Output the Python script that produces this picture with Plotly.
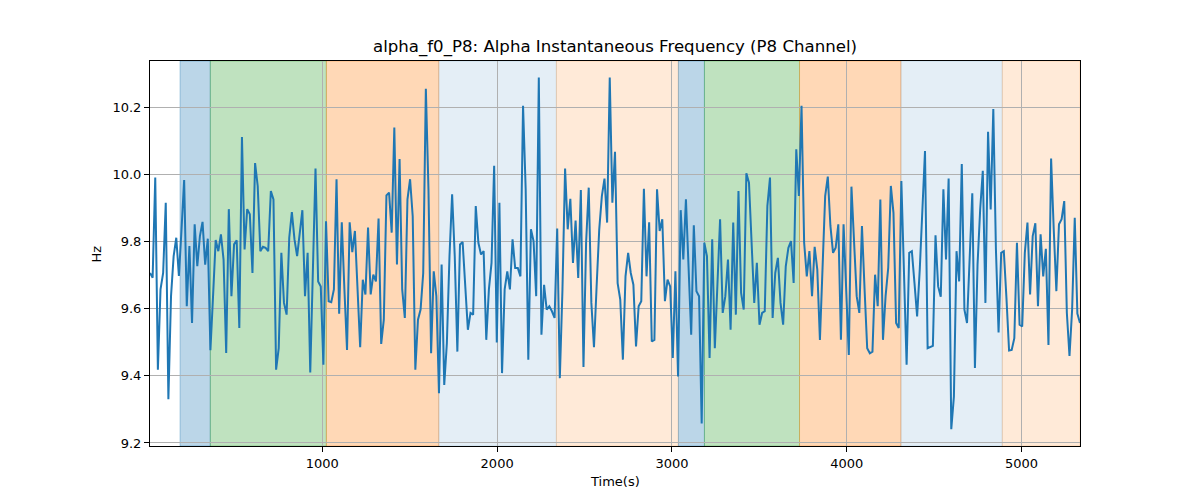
import numpy as np
import plotly.graph_objects as go

# ---- data ----
t_start = 14.0      # seconds, first sample
t_step = 15.03      # seconds between samples

hz_part1 = [9.706, 9.692, 9.990, 9.418, 9.657, 9.706, 9.915, 9.330, 9.637, 9.756,
            9.811, 9.697, 9.836, 9.983, 9.607, 9.786, 9.557, 9.851, 9.726, 9.816,
            9.858, 9.731, 9.808, 9.476, 9.637, 9.804, 9.771, 9.821, 9.746, 9.468,
            9.896, 9.637, 9.791, 9.803, 9.542, 10.111, 9.776, 9.896, 9.881, 9.706,
            10.033, 9.965, 9.771, 9.784, 9.781, 9.771, 9.950, 9.925, 9.418]
hz_part2 = [9.482, 9.766, 9.617, 9.582, 9.811, 9.887, 9.806, 9.756, 9.816, 9.893,
            9.637, 9.766, 9.410, 9.716, 10.017, 9.681, 9.666, 9.433, 9.860, 9.622,
            9.619, 9.657, 9.985, 9.585, 9.857, 9.657, 9.477, 9.857, 9.768, 9.831,
            9.647, 9.485, 9.686, 9.642, 9.841, 9.642, 9.701, 9.681, 9.868, 9.495,
            9.567, 9.937, 9.945, 9.826, 10.139, 9.731, 10.045, 9.657]
hz_part3 = [9.572, 9.925, 9.985, 9.875, 9.418, 9.567, 9.597, 9.706, 10.254, 9.955,
            9.467, 9.711, 9.637, 9.348, 9.731, 9.373, 9.497, 9.756, 9.940, 9.756,
            9.472, 9.791, 9.798, 9.657, 9.537, 9.587, 9.582, 9.905, 9.796, 9.761,
            9.771, 9.507, 9.657, 9.736, 10.025, 9.499, 9.915, 9.408, 9.657, 9.711,
            9.657, 9.806, 9.721, 9.721, 9.696, 10.204, 9.955, 9.448]
hz_part4 = [9.836, 9.801, 9.637, 10.288, 9.522, 9.671, 9.597, 9.607, 9.592, 9.572,
            9.838, 9.393, 9.657, 10.017, 9.836, 9.927, 9.736, 9.862, 9.691, 9.953,
            9.426, 9.796, 9.960, 9.617, 9.485, 9.666, 9.836, 9.935, 9.987, 9.856,
            10.288, 9.915, 10.067, 9.676, 9.627, 9.448, 9.696, 9.766, 9.706, 9.671,
            9.487, 9.607, 9.622, 9.957, 9.696, 9.857, 9.502]
hz_part5 = [9.507, 9.955, 9.831, 9.866, 9.622, 9.686, 9.666, 9.453, 9.711, 9.398,
            9.893, 9.746, 9.925, 9.746, 9.522, 9.848, 9.652, 9.637, 9.258, 9.796,
            9.756, 9.453, 9.806, 9.482, 9.686, 9.866, 9.587, 9.637, 9.746, 9.537,
            9.856, 9.582, 9.950, 9.647, 9.597, 10.003, 9.975, 9.796, 9.617, 9.736,
            9.552, 9.587, 9.592, 9.905, 9.990, 9.572, 9.706, 9.751]
hz_part6 = [9.617, 9.552, 9.726, 9.781, 9.801, 9.676, 10.074, 9.935, 10.204, 9.796,
            9.696, 9.771, 9.637, 9.784, 9.716, 9.507, 9.716, 9.935, 9.993, 9.846,
            9.766, 9.781, 9.851, 9.507, 9.851, 9.642, 9.462, 9.963, 9.776, 9.637,
            9.587, 9.846, 9.657, 9.482, 9.467, 9.472, 9.701, 9.607, 9.925, 9.507,
            9.637, 9.721, 9.965, 9.885, 9.557, 9.542, 9.980, 9.706]
hz_part7 = [9.433, 9.766, 9.771, 9.676, 9.577, 9.716, 9.885, 10.069, 9.482, 9.485,
            9.489, 9.818, 9.666, 9.635, 9.955, 9.746, 9.987, 9.241, 9.338, 9.771,
            9.681, 10.030, 9.597, 9.557, 9.766, 9.943, 9.423, 9.731, 9.895, 10.010,
            9.617, 10.126, 9.895, 10.194, 9.776, 9.529, 9.766, 9.771, 9.632, 9.475,
            9.477, 9.512, 9.796, 9.552, 9.547, 9.766, 9.856, 9.642]
hz_part8 = [9.816, 9.854, 9.607, 9.821, 9.696, 9.778, 9.492, 10.047, 9.836, 9.652,
            9.851, 9.866, 9.920, 9.587, 9.459, 9.597, 9.870, 9.585, 9.557]

# shaded segments (seconds) and their kind
seg_start = [186, 359, 1023, 1666, 2339, 3037, 3186, 3730, 4310, 4890]
seg_end = [359, 1023, 1666, 2339, 3037, 3186, 3730, 4310, 4890, 5340]
seg_kind = ["blue", "green", "orange", "lightblue", "lightorange",
            "blue", "green", "orange", "lightblue", "lightorange"]

y_ticks = [9.2, 9.4, 9.6, 9.8, 10.0, 10.2]
x_ticks = [1000, 2000, 3000, 4000, 5000]

title_text = "alpha_f0_P8: Alpha Instantaneous Frequency (P8 Channel)"

# ---- build ----
hz = np.array(hz_part1 + hz_part2 + hz_part3 + hz_part4 +
              hz_part5 + hz_part6 + hz_part7 + hz_part8)
t = t_start + t_step * np.arange(len(hz))

kind_style = {
    "blue": ("rgba(31,119,180,0.30)", "rgba(31,119,180,0.35)"),
    "green": ("rgba(44,160,44,0.30)", "rgba(44,160,44,0.35)"),
    "orange": ("rgba(255,127,14,0.30)", "rgba(255,127,14,0.35)"),
    "lightblue": ("rgba(31,119,180,0.12)", "rgba(31,119,180,0.15)"),
    "lightorange": ("rgba(255,127,14,0.16)", "rgba(255,127,14,0.2)"),
}

x_min, x_max = float(t[0]), float(t[-1])

fig = go.Figure()
fig.add_trace(go.Scatter(x=t, y=hz, mode="lines",
                         line=dict(color="#1f77b4", width=2),
                         showlegend=False, hoverinfo="x+y"))

for s, e, k in zip(seg_start, seg_end, seg_kind):
    fill, edge = kind_style[k]
    fig.add_shape(type="rect", xref="x", yref="paper",
                  x0=s, x1=min(e, x_max), y0=0, y1=1,
                  fillcolor=fill, line=dict(color=edge, width=1),
                  layer="below")

font_family = "DejaVu Sans, sans-serif"

# page body has an 8px margin, so margins are offset to keep the plot area
fig.update_layout(
    width=1200, height=500,
    margin=dict(l=142, r=128, t=53, b=62),
    paper_bgcolor="white", plot_bgcolor="white",
    font=dict(family=font_family, size=14, color="black"),
    title=dict(text=title_text, x=607 / 1200, xanchor="center",
               y=1 - 38 / 500, yanchor="middle", yref="container",
               font=dict(size=16.6, family=font_family, color="black")),
    xaxis=dict(range=[x_min, x_max], tickvals=x_ticks,
               ticktext=[str(v) for v in x_ticks],
               showgrid=True, gridcolor="#b0b0b0", gridwidth=1,
               zeroline=False, showline=True, linecolor="black",
               linewidth=1, mirror=True, ticks="outside", ticklen=5,
               tickcolor="black", tickfont=dict(size=13)),
    yaxis=dict(range=[9.191, 10.337], tickvals=y_ticks,
               ticktext=[f"{v:.1f}" for v in y_ticks],
               showgrid=True, gridcolor="#b0b0b0", gridwidth=1,
               zeroline=False, showline=True, linecolor="black",
               linewidth=1, mirror=True, ticks="outside", ticklen=5,
               tickcolor="black", tickfont=dict(size=13)),
    annotations=[
        dict(text="Time(s)", xref="paper", yref="paper", x=0.5, y=-0.0935,
             xanchor="center", yanchor="middle", showarrow=False,
             font=dict(size=13, family=font_family)),
        dict(text="Hz", xref="paper", yref="paper", x=-0.057, y=0.5,
             xanchor="center", yanchor="middle", showarrow=False,
             textangle=-90, font=dict(size=13, family=font_family)),
    ],
)

fig.write_html("out.html")
